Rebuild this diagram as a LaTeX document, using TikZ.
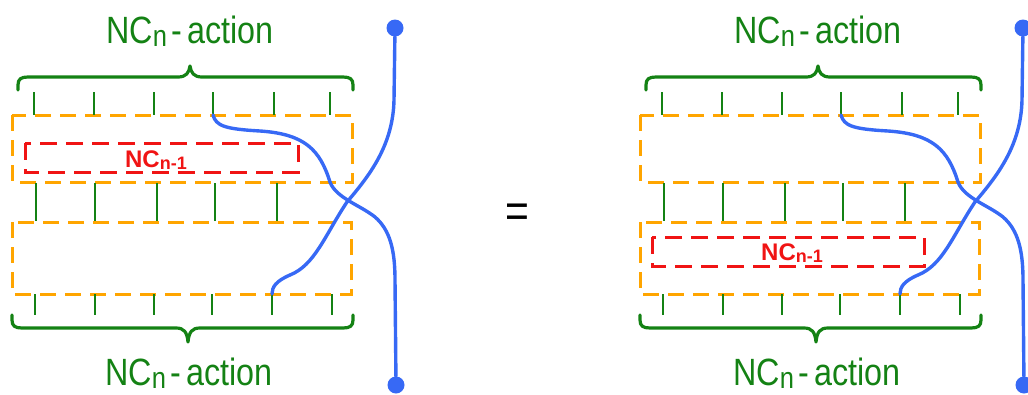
\documentclass[tikz,border=0pt]{standalone}
\usepackage{fontspec}
\newfontfamily\hand[FakeStretch=0.85]{Liberation Sans}
\newfontfamily\handw{Liberation Sans}
\definecolor{grn}{RGB}{20,130,20}
\definecolor{org}{RGB}{255,165,0}
\definecolor{rd}{RGB}{240,20,20}
\definecolor{blu}{RGB}{55,105,245}
\newcommand\labeltext{NC\raisebox{-3pt}{\fontsize{30}{30}\selectfont n}\hspace{5pt}-\hspace{5pt}action}
\newcommand\redtext{NC\raisebox{-2pt}{\fontsize{18}{18}\selectfont n-1}}
\newcommand\mypanel[1]{%
  \node[lbl,anchor=base] (#1top) at (190,43) {\labeltext};
  \node[lbl,anchor=base] (#1bot) at (189,385) {\labeltext};
  \draw[brace] (18,90) -- (18,85) .. controls (18,79) and (21,77) .. (28,77) -- (178,77)
     .. controls (186,77) and (189,73) .. (190,66) .. controls (191,73) and (194,77) .. (202,77)
     -- (343,77) .. controls (350,77) and (353,79) .. (353,85) -- (353,90);
  \draw[brace] (12,315) -- (12,320) .. controls (12,326) and (15,328) .. (22,328) -- (176,328)
     .. controls (184,328) and (187,332) .. (188,342) .. controls (189,332) and (192,328) .. (200,328)
     -- (343,328) .. controls (350,328) and (353,326) .. (353,320) -- (353,315);
  \draw[obox] (12,115) rectangle (352,182);
  \draw[obox] (12,222) rectangle (351,294);
  \foreach \x in {34,94,154,213,274,330} \draw[tick] (\x,92) -- (\x,115);
  \foreach \x in {36,95,157,215,277} \draw[tick] (\x,183) -- (\x,221);
  \foreach \x in {35,95,154,212,272,332} \draw[tick] (\x,294) -- (\x,315);
  \coordinate (#1ta) at (213,115);
  \coordinate (#1tb) at (272,294);
  \node[dot] (#1d1) at (395,28) {};
  \node[dot] (#1d2) at (396,385) {};
  \draw[wire] (#1d1) -- (394,100) .. controls (393,145) and (370,175) .. (347,202)
     .. controls (325,235) and (315,265) .. (290,275) .. controls (276,281) and (272,287) .. (#1tb);
  \draw[wire] (#1ta) .. controls (216,126) and (225,129) .. (260,131)
     .. controls (305,134) and (320,150) .. (330,182)
     .. controls (336,198) and (360,205) .. (375,217)
     .. controls (390,230) and (395,250) .. (395,280) -- (#1d2);
}
\begin{document}
\begin{tikzpicture}[x=1pt,y=-1pt,
  tick/.style={grn,line width=2.8pt},
  obox/.style={org,line width=3pt,dash pattern=on 16pt off 9pt},
  rbox/.style={rd,line width=3pt,dash pattern=on 17pt off 9pt},
  brace/.style={grn,line width=3.2pt,line cap=round,line join=round},
  wire/.style={blu,line width=3.4pt,line cap=round},
  dot/.style={circle,fill=blu,inner sep=0pt,minimum size=17pt},
  lbl/.style={grn,font=\hand\fontsize{38}{40}\selectfont,inner sep=0pt},
  sub/.style={rd,font=\handw\bfseries\fontsize{24}{24}\selectfont,inner sep=0pt}]
\useasboundingbox (0,0) rectangle (1028,394);
% left panel
\mypanel{L}
\draw[rbox] (25,143) rectangle (298,172);
\node[sub,anchor=base] (Lred) at (156,167) {\redtext};
% equals
\node[font=\hand\fontsize{48}{48}\selectfont,inner sep=0pt] (eq) at (517,216) {=};
% right panel
\begin{scope}[shift={(628,0)}]
\mypanel{R}
\draw[rbox] (24,237) rectangle (296,266);
\node[sub,anchor=base] (Rred) at (164,260) {\redtext};
\end{scope}
\end{tikzpicture}
\end{document}
